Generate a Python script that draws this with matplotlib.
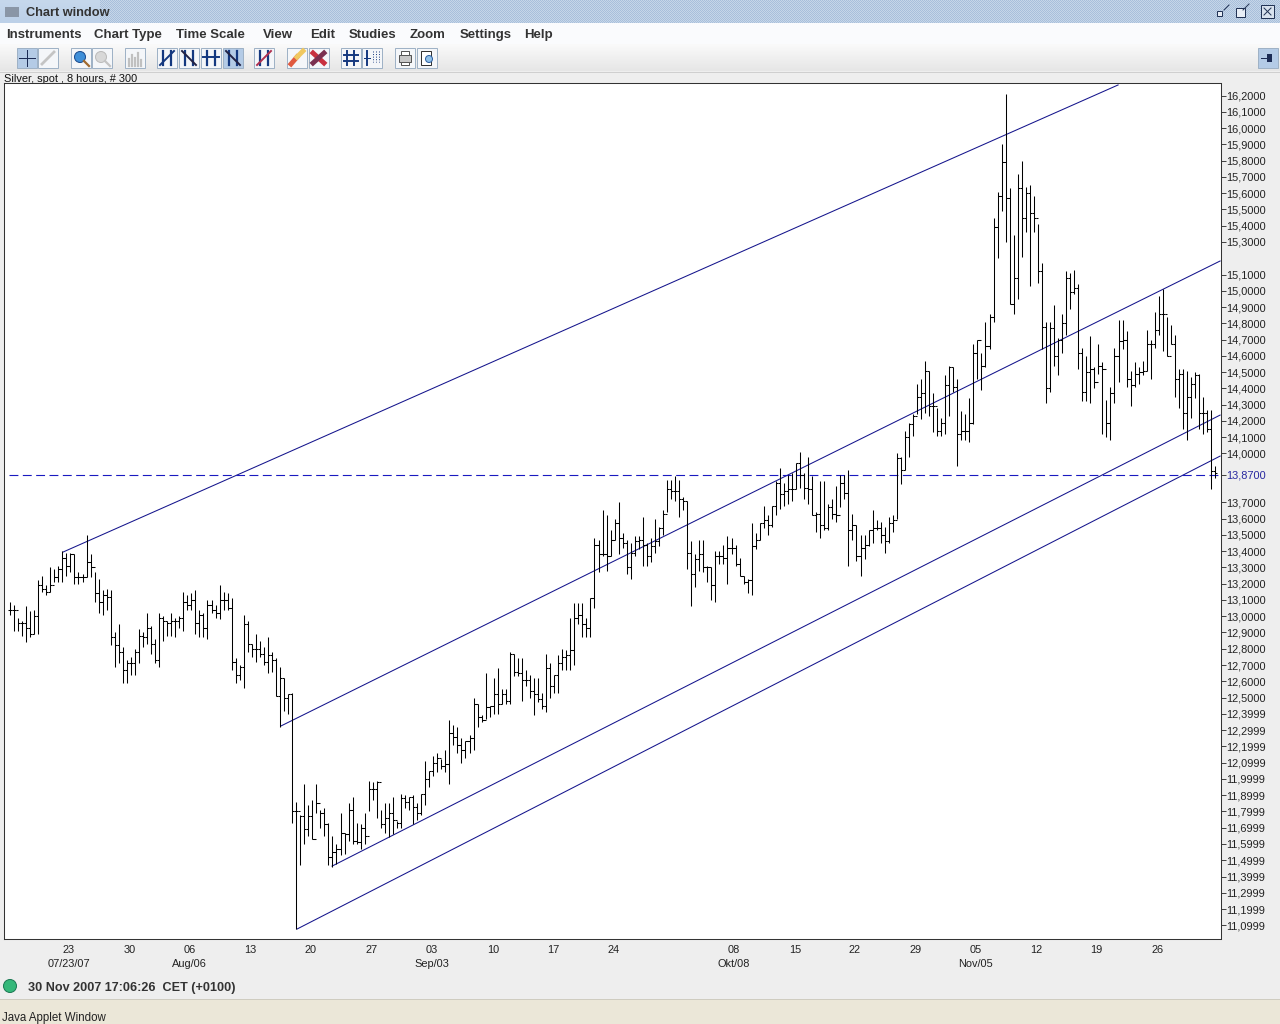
import numpy as np
import matplotlib
matplotlib.use("Agg")
import matplotlib.pyplot as plt
from matplotlib.patches import Rectangle, Circle

plt.rcParams['font.family'] = ['Liberation Sans', 'DejaVu Sans']

highs = [
13.09,13.07,12.99,12.97,13.06,13.03,13.04,13.22,13.25,13.19,
13.30,13.29,13.31,13.40,13.39,13.39,13.38,13.27,13.26,13.50,
13.38,13.27,13.23,13.16,13.17,13.16,12.90,12.95,12.81,12.73,
12.75,12.80,12.92,12.90,13.02,12.94,12.86,13.02,13.00,12.97,
13.02,12.99,13.00,13.15,13.13,13.14,13.16,13.04,13.02,13.10,
13.10,13.07,13.19,13.15,13.14,13.11,12.74,12.70,13.01,12.97,
12.83,12.89,12.85,12.81,12.87,12.78,12.74,12.69,12.62,12.52,
12.53,11.86,11.78,11.97,11.84,11.87,11.97,11.81,11.82,11.73,
11.65,11.60,11.79,11.67,11.85,11.89,11.73,11.72,11.79,11.99,
11.98,11.99,11.81,11.85,11.85,11.89,11.74,11.91,11.90,11.89,
11.90,11.85,11.91,12.11,12.05,12.14,12.16,12.12,12.18,12.36,
12.33,12.32,12.25,12.23,12.27,12.50,12.46,12.39,12.65,12.45,
12.62,12.68,12.55,12.55,12.78,12.77,12.74,12.74,12.67,12.64,
12.62,12.62,12.53,12.77,12.71,12.64,12.76,12.80,12.79,12.99,
13.08,13.08,13.08,12.99,13.11,13.48,13.47,13.65,13.62,13.53,
13.60,13.70,13.51,13.47,13.45,13.49,13.49,13.61,13.45,13.48,
13.60,13.55,13.65,13.84,13.84,13.86,13.84,13.73,13.71,13.46,
13.38,13.47,13.47,13.31,13.30,13.40,13.40,13.44,13.49,13.48,
13.44,13.36,13.25,13.23,13.57,13.51,13.57,13.68,13.62,13.68,
13.83,13.91,13.82,13.87,13.88,13.94,14.01,13.88,13.98,13.86,
13.64,13.83,13.83,13.69,13.72,13.80,13.87,13.87,13.90,13.63,
13.56,13.50,13.50,13.53,13.65,13.59,13.58,13.55,13.61,13.62,
14.00,13.98,14.14,14.19,14.24,14.43,14.46,14.57,14.51,14.37,
14.28,14.22,14.48,14.54,14.53,14.46,14.26,14.24,14.34,14.67,
14.70,14.62,14.81,14.86,15.45,15.61,15.90,16.21,15.63,15.34,
15.72,15.80,15.64,15.65,15.58,15.41,15.17,14.81,14.81,14.91,
14.71,14.86,15.12,15.11,15.13,15.04,14.65,14.60,14.72,14.53,
14.67,14.56,14.33,14.41,14.65,14.82,14.82,14.75,14.51,14.56,
14.53,14.57,14.76,14.70,14.87,14.97,15.01,14.84,14.79,14.73,
14.52,14.52,14.51,14.47,14.50,14.49,14.35,14.27,14.27,13.92]

lows = [
13.01,12.91,12.91,12.88,12.84,12.87,12.89,12.89,13.15,13.13,
13.15,13.21,13.21,13.21,13.25,13.27,13.20,13.20,13.21,13.24,
13.24,13.09,13.02,13.01,13.04,12.82,12.69,12.71,12.59,12.59,
12.64,12.64,12.71,12.81,12.83,12.77,12.71,12.69,12.85,12.88,
12.88,12.87,12.93,12.91,13.04,13.04,12.89,12.87,12.87,12.86,
13.02,12.99,12.98,13.04,13.04,12.67,12.59,12.61,12.56,12.78,
12.75,12.72,12.75,12.70,12.65,12.66,12.51,12.32,12.42,12.40,
11.73,11.08,11.47,11.60,11.65,11.63,11.79,11.70,11.65,11.47,
11.46,11.48,11.53,11.54,11.62,11.60,11.60,11.57,11.60,11.80,
11.87,11.76,11.70,11.67,11.64,11.66,11.70,11.70,11.82,11.81,
11.72,11.75,11.78,11.84,11.95,12.02,12.04,12.06,12.04,11.97,
12.21,12.16,12.10,12.13,12.16,12.18,12.32,12.35,12.37,12.38,
12.40,12.40,12.46,12.46,12.46,12.63,12.63,12.48,12.57,12.50,
12.39,12.47,12.43,12.41,12.50,12.53,12.53,12.67,12.67,12.67,
12.70,12.95,12.87,12.87,12.87,13.05,13.27,13.37,13.28,13.37,
13.47,13.38,13.42,13.26,13.23,13.37,13.41,13.31,13.31,13.33,
13.39,13.43,13.50,13.64,13.72,13.71,13.61,13.65,13.29,13.06,
13.18,13.28,13.27,13.21,13.10,13.09,13.32,13.32,13.20,13.38,
13.31,13.25,13.20,13.14,13.13,13.41,13.47,13.54,13.50,13.55,
13.62,13.66,13.68,13.69,13.71,13.78,13.79,13.72,13.69,13.62,
13.52,13.48,13.53,13.53,13.60,13.58,13.67,13.72,13.31,13.47,
13.34,13.25,13.35,13.43,13.45,13.53,13.45,13.39,13.45,13.52,
13.60,13.81,13.90,13.98,14.11,14.24,14.21,14.25,14.23,14.13,
14.11,14.11,14.12,14.23,14.38,13.92,14.08,14.08,14.07,14.18,
14.46,14.39,14.53,14.64,14.81,15.20,15.49,15.30,14.92,14.86,
14.95,15.21,15.36,15.03,15.36,15.05,14.64,14.31,14.38,14.54,
14.48,14.62,14.73,14.89,14.98,14.52,14.32,14.32,14.31,14.40,
14.49,14.12,14.10,14.08,14.31,14.44,14.64,14.41,14.29,14.41,
14.43,14.48,14.51,14.46,14.65,14.73,14.63,14.60,14.67,14.35,
14.28,14.15,14.08,14.22,14.34,14.15,14.12,14.13,13.78,13.85]

closes = [
13.04,13.04,12.96,12.96,12.93,12.89,13.00,13.19,13.17,13.15,
13.19,13.24,13.29,13.36,13.31,13.38,13.24,13.24,13.24,13.33,
13.30,13.14,13.09,13.13,13.12,12.87,12.82,12.78,12.67,12.71,
12.71,12.78,12.88,12.87,12.93,12.83,12.73,12.99,12.97,12.96,
12.97,12.97,12.99,13.09,13.07,13.10,12.96,13.01,12.93,13.07,
13.04,13.02,13.10,13.10,13.05,12.72,12.64,12.69,12.95,12.83,
12.80,12.80,12.77,12.72,12.76,12.73,12.51,12.62,12.50,12.52,
11.80,11.80,11.77,11.69,11.77,11.63,11.85,11.79,11.72,11.52,
11.55,11.57,11.67,11.66,11.81,11.62,11.61,11.70,11.65,11.94,
11.94,11.98,11.72,11.76,11.79,11.75,11.73,11.88,11.86,11.89,
11.83,11.79,11.91,12.00,12.05,12.10,12.13,12.08,12.09,12.28,
12.26,12.21,12.18,12.23,12.25,12.46,12.38,12.36,12.44,12.45,
12.52,12.46,12.52,12.48,12.77,12.66,12.65,12.61,12.61,12.54,
12.52,12.49,12.45,12.68,12.57,12.64,12.71,12.75,12.76,12.79,
12.99,13.01,12.95,12.93,13.11,13.44,13.38,13.38,13.37,13.47,
13.57,13.48,13.45,13.30,13.39,13.46,13.47,13.44,13.37,13.43,
13.46,13.54,13.63,13.78,13.77,13.77,13.72,13.71,13.39,13.26,
13.35,13.38,13.30,13.30,13.19,13.37,13.37,13.36,13.42,13.42,
13.32,13.25,13.21,13.22,13.43,13.47,13.57,13.59,13.56,13.68,
13.82,13.75,13.77,13.78,13.78,13.94,13.87,13.79,13.78,13.62,
13.63,13.56,13.54,13.67,13.63,13.62,13.82,13.76,13.53,13.56,
13.37,13.42,13.44,13.53,13.54,13.54,13.50,13.46,13.57,13.59,
13.97,13.90,14.10,14.18,14.23,14.35,14.37,14.51,14.29,14.29,
14.14,14.19,14.42,14.53,14.41,14.12,14.14,14.14,14.19,14.62,
14.70,14.54,14.66,14.84,15.39,15.58,15.79,15.57,14.92,15.08,
15.63,15.45,15.60,15.48,15.45,15.12,14.78,14.40,14.77,14.60,
14.70,14.80,15.08,14.99,15.02,14.62,14.38,14.50,14.52,14.44,
14.54,14.52,14.19,14.37,14.60,14.69,14.70,14.46,14.42,14.49,
14.50,14.51,14.67,14.67,14.76,14.86,14.86,14.60,14.67,14.46,
14.49,14.25,14.35,14.43,14.48,14.25,14.25,14.15,13.89,13.88]

opens = [
13.04,13.04,13.04,12.96,12.96,12.93,12.89,13.00,13.19,13.17,
13.15,13.19,13.24,13.29,13.36,13.31,13.38,13.24,13.24,13.24,
13.33,13.30,13.14,13.09,13.13,13.12,12.87,12.82,12.78,12.67,
12.71,12.71,12.78,12.88,12.87,12.93,12.83,12.73,12.99,12.97,
12.96,12.97,12.97,12.99,13.09,13.07,13.10,12.96,13.01,12.93,
13.07,13.04,13.02,13.10,13.10,13.05,12.72,12.64,12.69,12.95,
12.83,12.80,12.80,12.77,12.72,12.76,12.73,12.51,12.62,12.50,
12.52,11.80,11.80,11.77,11.69,11.77,11.63,11.85,11.79,11.72,
11.52,11.55,11.57,11.67,11.66,11.81,11.62,11.61,11.70,11.65,
11.94,11.94,11.98,11.72,11.76,11.79,11.75,11.73,11.88,11.86,
11.89,11.83,11.79,11.91,12.00,12.05,12.10,12.13,12.08,12.09,
12.28,12.26,12.21,12.18,12.23,12.25,12.46,12.38,12.36,12.44,
12.45,12.52,12.46,12.52,12.48,12.77,12.66,12.65,12.61,12.61,
12.54,12.52,12.49,12.45,12.68,12.57,12.64,12.71,12.75,12.76,
12.79,12.99,13.01,12.95,12.93,13.11,13.44,13.38,13.38,13.37,
13.47,13.57,13.48,13.45,13.30,13.39,13.46,13.47,13.44,13.37,
13.43,13.46,13.54,13.63,13.78,13.77,13.77,13.72,13.71,13.39,
13.26,13.35,13.38,13.30,13.30,13.19,13.37,13.37,13.36,13.42,
13.42,13.32,13.25,13.21,13.22,13.43,13.47,13.57,13.59,13.56,
13.68,13.82,13.75,13.77,13.78,13.78,13.94,13.87,13.79,13.78,
13.62,13.63,13.56,13.54,13.67,13.63,13.62,13.82,13.76,13.53,
13.56,13.37,13.42,13.44,13.53,13.54,13.54,13.50,13.46,13.57,
13.59,13.97,13.90,14.10,14.18,14.23,14.35,14.37,14.51,14.29,
14.29,14.14,14.19,14.42,14.53,14.41,14.12,14.14,14.14,14.19,
14.62,14.70,14.54,14.66,14.84,15.39,15.58,15.79,15.57,14.92,
15.08,15.63,15.45,15.60,15.48,15.45,15.12,14.78,14.40,14.77,
14.60,14.70,14.80,15.08,14.99,15.02,14.62,14.38,14.50,14.52,
14.44,14.54,14.52,14.19,14.37,14.60,14.69,14.70,14.46,14.42,
14.49,14.50,14.51,14.67,14.67,14.76,14.86,14.86,14.60,14.67,
14.46,14.49,14.25,14.35,14.43,14.48,14.25,14.25,14.15,13.89]

assert len(highs) == len(lows) == len(closes) == len(opens) == 300

# channel lines: (bar, price) pairs
line_top = ([13.15, 274.9], [13.394, 16.265])
line_upper = ([67.2, 300.2], [12.325, 15.183])
line_mid = ([79.9, 300.2], [11.464, 14.236])
line_low = ([71.2, 300.2], [11.077, 13.984])
level_price = 13.87

y_tick_values = [16.2,16.1,16.0,15.9,15.8,15.7,15.6,15.5,15.4,15.3,15.1,15.0,14.9,14.8,14.7,14.6,
                 14.5,14.4,14.3,14.2,14.1,14.0,13.87,13.7,13.6,13.5,13.4,13.3,13.2,13.1,13.0,12.9,
                 12.8,12.7,12.6,12.5,12.4,12.3,12.2,12.1,12.0,11.9,11.8,11.7,11.6,11.5,11.4,11.3,11.2,11.1]
y_tick_labels = ["16,2000","16,1000","16,0000","15,9000","15,8000","15,7000","15,6000","15,5000","15,4000","15,3000",
                 "15,1000","15,0000","14,9000","14,8000","14,7000","14,6000","14,5000","14,4000","14,3000","14,2000",
                 "14,1000","14,0000","13,8700","13,7000","13,6000","13,5000","13,4000","13,3000","13,2000","13,1000",
                 "13,0000","12,9000","12,8000","12,7000","12,6000","12,5000","12,3999","12,2999","12,1999","12,0999",
                 "11,9999","11,8999","11,7999","11,6999","11,5999","11,4999","11,3999","11,2999","11,1999","11,0999"]
x_tick_bars = [14.6,29.7,44.6,59.7,74.6,89.8,104.6,119.8,134.7,149.8,179.6,194.7,209.6,224.7,239.6,254.7,269.6,284.7]
x_tick_days = ["23\n07/23/07","30","06\nAug/06","13","20","27","03\nSep/03","10","17","24",
               "08\nOkt/08","15","22","29","05\nNov/05","12","19","26"]

fig = plt.figure(figsize=(12.8, 10.24), dpi=100, facecolor='#eeeeee')

# ---------- window chrome ----------
ui = fig.add_axes([0, 0, 1, 1], zorder=0)
ui.set_axis_off()

def grad(y0, y1, c0, c1, x0=0, x1=1280):
    c0 = np.array(matplotlib.colors.to_rgb(c0))
    c1 = np.array(matplotlib.colors.to_rgb(c1))
    t = np.linspace(0, 1, 32)[:, None, None]
    ui.imshow(c0 + (c1 - c0) * t, extent=(x0, x1, y1, y0), aspect='auto', interpolation='bilinear', zorder=1)

grad(0, 23, '#c6d8ec', '#bcd0e8')
yy, xx = np.mgrid[0:23, 100:1280]
check = ((xx + yy) % 2)[..., None]
ui.imshow(np.array([0.78, 0.84, 0.91]) * check + np.array([0.66, 0.75, 0.86]) * (1 - check),
          extent=(100, 1280, 23, 0), aspect='auto', interpolation='nearest', zorder=1)
ui.add_patch(Rectangle((5, 7), 14, 10, fc='#8a96a6', ec='none', zorder=2))
ui.add_patch(Rectangle((0, 23), 1280, 21, fc='#fafbfd', ec='none', zorder=1))
grad(44, 71, '#fafafa', '#e6e6e6')
ui.plot([0, 1280], [71.5, 71.5], color='#cfcfcf', lw=0.72, zorder=2)
ui.add_patch(Rectangle((0, 72), 1280, 903, fc='#eeeeee', ec='none', zorder=1))
ui.add_patch(Rectangle((0, 999), 1280, 25, fc='#ebe7d8', ec='none', zorder=1))
ui.plot([0, 1280], [999, 999], color='#cfccc0', lw=0.72, zorder=2)

ui.text(26, 16, "Chart window", fontsize=9.2, fontweight='bold', color='#333333', va='baseline', zorder=3)
for label, mx in [("Instruments", 6), ("Chart Type", 94), ("Time Scale", 176), ("View", 263), ("Edit", 310),
                  ("Studies", 349), ("Zoom", 410), ("Settings", 460), ("Help", 524)]:
    ui.text(mx, 38, label, fontsize=9.5, fontweight='bold', color='#333333', va='baseline', zorder=3)

def button(x0, y0=48, selected=False):
    fc = '#b4cbe6' if selected else '#f4f6f9'
    ui.add_patch(Rectangle((x0, y0), 20, 20, fc=fc, ec='#9fb2c6', lw=0.72, zorder=2))

navy = '#14387f'
for bx, sel in [(17, True), (38, False), (71, False), (92, False), (125, False), (157, False), (179, False),
                (201, False), (223, True), (254, False), (287, False), (309, False), (341, False), (362, False),
                (395, False), (417, False), (1258, True)]:
    button(bx, selected=sel)
# cross
ui.plot([27, 27], [50, 66], color='#1c2c55', lw=0.72, zorder=3)
ui.plot([19, 35], [58, 58], color='#1c2c55', lw=0.72, zorder=3)
# greyed trend
ui.plot([42, 54], [64, 52], color='#c4c4c4', lw=2, zorder=3)
# zoom in / out
ui.add_patch(Circle((80, 57), 5.5, fc='#3f8fd8', ec='#1c4c8f', lw=0.72, zorder=3))
ui.plot([84, 89], [61, 66], color='#a06a30', lw=1.6, zorder=3)
ui.add_patch(Circle((101, 57), 5.5, fc='#d8d8d8', ec='#bbbbbb', lw=0.72, zorder=3))
ui.plot([105, 110], [61, 66], color='#c4c4c4', lw=1.6, zorder=3)
# greyed bars
for bar_x, bar_h in [(129, 7), (132, 11), (135, 8), (138, 13), (141, 6)]:
    ui.plot([bar_x, bar_x], [66, 66 - bar_h], color='#c0c0c0', lw=1.6, zorder=3)
# bar-type icons
for bx in [157, 179, 201, 223, 254]:
    ui.plot([bx + 6, bx + 6], [51, 65], color=navy, lw=1.6, zorder=3)
    ui.plot([bx + 14, bx + 14], [51, 65], color=navy, lw=1.6, zorder=3)
ui.plot([160, 174], [65, 51], color=navy, lw=1.4, zorder=3)
ui.plot([182, 196], [51, 65], color='#222244', lw=1.4, zorder=3)
ui.plot([203, 219], [57, 57], color=navy, lw=1.4, zorder=3)
ui.plot([226, 240], [51, 65], color='#222244', lw=1.4, zorder=3)
ui.plot([257, 271], [65, 51], color='#b03050', lw=1.4, zorder=3)
# eraser, red x
ui.plot([291, 297], [64, 57], color='#e05a40', lw=3.5, zorder=3)
ui.plot([297, 303], [57, 51], color='#f0c860', lw=3.5, zorder=3)
ui.plot([313, 324], [53, 63], color='#c83040', lw=3.5, zorder=3)
ui.plot([313, 324], [63, 53], color='#7a3050', lw=3.5, zorder=3)
# grid icons
for g in [347, 354]:
    ui.plot([g, g], [51, 65], color=navy, lw=1.4, zorder=3)
for g in [55, 61]:
    ui.plot([344, 358], [g, g], color=navy, lw=1.4, zorder=3)
ui.plot([367, 367], [51, 65], color=navy, lw=1.4, zorder=3)
ui.plot([364, 370], [58, 58], color=navy, lw=0.72, zorder=3)
for g in [373, 376, 379]:
    ui.plot([g, g], [51, 62], color=navy, lw=0.7, ls=':', zorder=3)
# printer, preview
ui.add_patch(Rectangle((399, 55), 12, 7, fc='#c8c8c8', ec='#555555', lw=0.72, zorder=3))
ui.add_patch(Rectangle((401, 51), 8, 4, fc='#ffffff', ec='#555555', lw=0.72, zorder=3))
ui.add_patch(Rectangle((401, 62), 8, 3, fc='#ffffff', ec='#555555', lw=0.72, zorder=3))
ui.add_patch(Rectangle((421, 51), 10, 14, fc='#ffffff', ec='#333333', lw=0.72, zorder=3))
ui.add_patch(Circle((429, 59), 3.5, fc='#8fc0e8', ec='#2f5f9f', lw=0.72, zorder=4))
# pin
ui.plot([1261, 1267], [58, 58], color='#1c2c55', lw=0.72, zorder=3)
ui.add_patch(Rectangle((1267, 54), 5, 8, fc='#1c2c55', ec='none', zorder=3))
# window buttons
ui.add_patch(Rectangle((1217, 11), 5, 5, fc='#e8eef6', ec='#223355', lw=0.72, zorder=3))
ui.plot([1224, 1229], [10, 5], color='#223355', lw=0.72, zorder=3)
ui.add_patch(Rectangle((1236, 8), 9, 9, fc='#e8eef6', ec='#223355', lw=0.72, zorder=3))
ui.plot([1243, 1249], [10, 4], color='#223355', lw=0.72, zorder=3)
ui.add_patch(Rectangle((1261, 5), 13, 13, fc='#d8e2ee', ec='#223355', lw=0.72, zorder=3))
ui.plot([1264, 1271], [8, 15], color='#223355', lw=0.72, zorder=4)
ui.plot([1264, 1271], [15, 8], color='#223355', lw=0.72, zorder=4)

ui.text(4, 82, "Silver, spot , 8 hours, # 300", fontsize=7.9, color='#111111', va='baseline', zorder=3)
ui.add_patch(Circle((10, 986), 6.5, fc='#35b87a', ec='#1d7a55', lw=0.72, zorder=3))
ui.text(28, 991, "30 Nov 2007 17:06:26  CET (+0100)", fontsize=9.1, fontweight='bold', color='#333333',
        va='baseline', zorder=3)
ui.text(2, 1021, "Java Applet Window", fontsize=8.3, color='#222222', va='baseline', zorder=3)
ui.set_xlim(0, 1280)
ui.set_ylim(1024, 0)

# ---------- price chart ----------
ax = fig.add_axes([4.0 / 1280, 1 - 939 / 1024, 1216.5 / 1280, 856 / 1024], zorder=2, facecolor='white')
bars = np.arange(len(highs))
ax.vlines(bars, lows, highs, color='black', lw=0.75, zorder=3)
ax.hlines(opens, bars - 0.55, bars, color='black', lw=0.75, zorder=3)
ax.hlines(closes, bars, bars + 0.55, color='black', lw=0.75, zorder=3)

line_color = '#14148c'
for xs, ys in (line_top, line_upper, line_mid, line_low):
    ax.plot(xs, ys, color=line_color, lw=0.75, zorder=2)
ax.plot([-0.2, 300.3], [level_price, level_price], color='#1a1ac0', lw=0.8, dashes=(8, 4), zorder=2)

ax.set_xlim(-1.48, 300.3)
ax.set_ylim(11.016, 16.277)
ax.yaxis.tick_right()
ax.set_yticks(y_tick_values)
ax.set_yticklabels(y_tick_labels)
ax.set_xticks(x_tick_bars)
ax.set_xticklabels(x_tick_days, linespacing=1.5)
ax.tick_params(axis='y', length=3.6, width=0.72, color='#444444', pad=0.8, labelsize=7.9, labelcolor='#222222')
ax.tick_params(axis='x', length=0, pad=4, labelsize=7.9, labelcolor='#222222')
for lab, val in zip(ax.get_yticklabels(), y_tick_values):
    if val == level_price:
        lab.set_color('#2828a0')
for s in ax.spines.values():
    s.set_color('#333333')
    s.set_linewidth(0.75)

fig.savefig('out.png', dpi=100, facecolor=fig.get_facecolor())
